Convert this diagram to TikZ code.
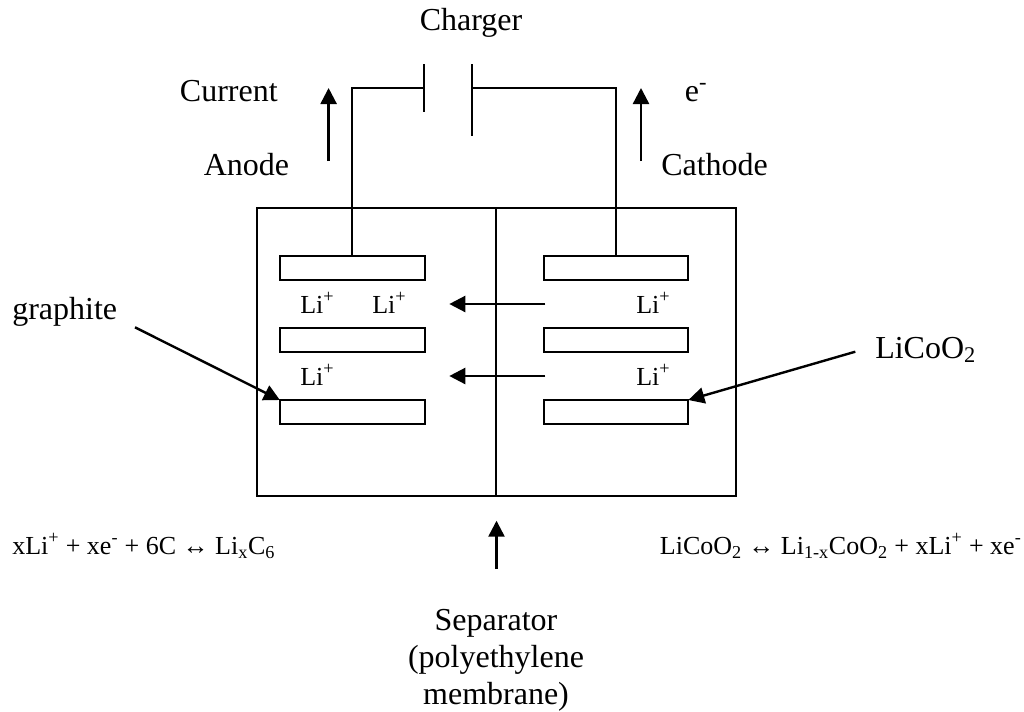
\documentclass[tikz,border=0pt]{standalone}
\usepackage{fontspec}
\setmainfont{Liberation Serif}
\usetikzlibrary{positioning}
\usetikzlibrary{arrows.meta}
\tikzset{
    label/.style={inner sep=0, anchor=base west, font=\fontsize{24pt}{28pt}\selectfont},
    ion/.style={inner sep=0, anchor=base west, font=\fontsize{19.5pt}{22pt}\selectfont},
    electrode/.style={draw, line width=1.5pt, rectangle, inner sep=0, outer sep=0, minimum width=108.5pt, minimum height=18pt},
    wire/.style={line width=1.2pt},
    pointer/.style={line width=1.8pt, -{Triangle[length=12pt,width=12pt]}}
}
\begin{document}
\begin{tikzpicture}[x=0.75pt, y=-0.75pt]
    \useasboundingbox (0,0) rectangle (1024,711);

    % Cell
    \node[draw, line width=1.5pt, rectangle, inner sep=0, outer sep=0, minimum width=359.25pt, minimum height=216pt] (cell) at (496.25,352) {};
    \draw[line width=1.7pt] (cell.north) -- (cell.south);

    % Electrodes
    \node[electrode] (a1) at (352.2,268) {};
    \node[electrode, below = 36pt of a1] (a2) {};
    \node[electrode, below = 36pt of a2] (a3) {};
    \node[electrode] (c1) at (616,268) {};
    \node[electrode, below = 36pt of c1] (c2) {};
    \node[electrode, below = 36pt of c2] (c3) {};

    % Charger
    \coordinate (pl) at (424,88);
    \coordinate (pr) at (472,88);
    \coordinate (plt) at (424,64);
    \coordinate (plb) at (424,112);
    \coordinate (prt) at (472,64);
    \coordinate (prb) at (472,136);
    \draw[wire] (plt) -- (plb);
    \draw[wire] (prt) -- (prb);
    \draw[wire] (a1.north) |- (pl);
    \draw[wire] (c1.north) |- (pr);
    \node[label, anchor=base] (charger) at (471,30.7) {Charger};

    % Current and electrons
    \coordinate (i0) at (328.6,161);
    \coordinate (i1) at (328.6,88);
    \coordinate (e0) at (641,161);
    \coordinate (e1) at (641,88);
    \draw[pointer] (i0) -- (i1);
    \draw[pointer] (e0) -- (e1);
    \node[label] (current) at (179.7,101.7) {Current};
    \node[label] (anode) at (203.5,175) {Anode};
    \node[label] (cathode) at (661,175) {Cathode};
    \node[label] (electron) at (684.6,101.7) {e\textsuperscript{-}};

    % Ions
    \node[ion] (li1) at (300,313) {Li\textsuperscript{+}};
    \node[ion] (li2) at (372,313) {Li\textsuperscript{+}};
    \node[ion] (li3) at (300,385) {Li\textsuperscript{+}};
    \node[ion] (li4) at (636,313) {Li\textsuperscript{+}};
    \node[ion] (li5) at (636,385) {Li\textsuperscript{+}};
    \coordinate (m1) at (545.3,304);
    \coordinate (n1) at (449.3,304);
    \coordinate (m2) at (545.3,376);
    \coordinate (n2) at (449.3,376);
    \draw[pointer] (m1) -- (n1);
    \draw[pointer] (m2) -- (n2);

    % Materials
    \node[label] (graphite) at (12,319) {graphite};
    \node[label] (licoo) at (875,358) {LiCoO\textsubscript{2}};
    \coordinate (g0) at (135,327.3);
    \coordinate (l0) at (855.3,351.7);
    \draw[pointer] (g0) -- (a3.north west);
    \draw[pointer] (l0) -- (c3.north east);

    % Reactions
    \node[ion] (anodeeq) at (12,554) {xLi\textsuperscript{+} + xe\textsuperscript{-} + 6C ↔ Li\textsubscript{x}C\textsubscript{6}};
    \node[ion] (cathodeeq) at (659.7,554) {LiCoO\textsubscript{2} ↔ Li\textsubscript{1-x}CoO\textsubscript{2} + xLi\textsuperscript{+} + xe\textsuperscript{-}};

    % Separator
    \coordinate (s0) at (496.5,569);
    \coordinate (s1) at (496.5,520.7);
    \draw[pointer] (s0) -- (s1);
    \node[label, anchor=base] (separator) at (496,630.7) {Separator};
    \node[label, anchor=base] (polymer) at (496,667.5) {(polyethylene};
    \node[label, anchor=base] (membrane) at (496,704) {membrane)};
\end{tikzpicture}
\end{document}
